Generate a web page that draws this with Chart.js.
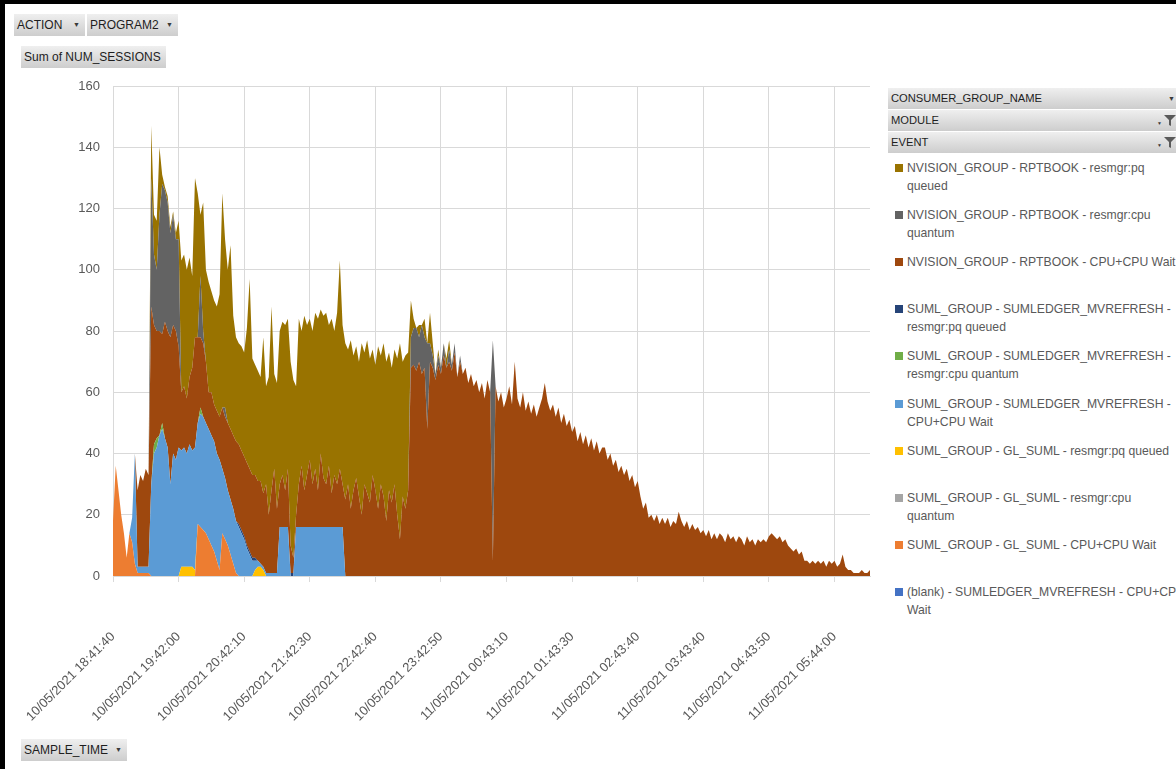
<!DOCTYPE html>
<html>
<head>
<meta charset="utf-8">
<title>Sum of NUM_SESSIONS by SAMPLE_TIME</title>
<script src="https://cdn.jsdelivr.net/npm/chart.js@4.4.1/dist/chart.umd.min.js"></script>
<style>
  html, body { margin: 0; padding: 0; }
  body { width: 1176px; height: 769px; background: #000; position: relative; overflow: hidden;
         font-family: "Liberation Sans", Arial, sans-serif; }
  #sheet { position: absolute; left: 5px; top: 4px; width: 1171px; height: 765px; background: #fff; }
  #chartCanvas { position: absolute; left: 0; top: 0; }
  .field { position: absolute; height: 22px; line-height: 22px; box-sizing: border-box; padding-left: 3px;
           font-size: 12px; color: #1e1e1e; background: linear-gradient(#efefef, #cdcdcd); white-space: nowrap; overflow: hidden; }
  .field.side { font-size: 11.2px; height: 21px; line-height: 21px; width: 288px; left: 888px; }
  .field .arrow { position: absolute; top: 0; font-size: 7px; color: #3a3a3a; }
  .field svg { position: absolute; top: 5px; }
  .legend-item { position: absolute; left: 907px; font-size: 12.2px; line-height: 18px; color: #595959; white-space: nowrap; }
  .legend-swatch { position: absolute; left: 895px; width: 8px; height: 8px; }
</style>
</head>
<body>
<div id="sheet"></div>
<canvas id="chartCanvas" width="880" height="769"></canvas>

<div class="field" style="left:14px;top:14px;width:71px;">ACTION<span class="arrow" style="left:59px;">&#9660;</span></div>
<div class="field" style="left:87px;top:14px;width:91px;">PROGRAM2<span class="arrow" style="left:79px;">&#9660;</span></div>
<div class="field" style="left:21px;top:46px;width:145px;">Sum of NUM_SESSIONS</div>
<div class="field" style="left:21px;top:739px;width:106px;">SAMPLE_TIME<span class="arrow" style="left:94px;">&#9660;</span></div>

<div class="field side" style="top:88px;">CONSUMER_GROUP_NAME<span class="arrow" style="left:280px;">&#9660;</span></div>
<div class="field side" style="top:110px;">MODULE<span class="arrow" style="left:269px;font-size:5px;top:3px;">&#9660;</span>
  <svg style="left:276px;" width="12" height="11" viewBox="0 0 12 11"><path d="M0 0 H12 L7 5 V11 L5 10 V5 Z" fill="#5a5a5a"/></svg></div>
<div class="field side" style="top:132px;">EVENT<span class="arrow" style="left:269px;font-size:5px;top:3px;">&#9660;</span>
  <svg style="left:276px;" width="12" height="11" viewBox="0 0 12 11"><path d="M0 0 H12 L7 5 V11 L5 10 V5 Z" fill="#5a5a5a"/></svg></div>

<div id="legend"></div>

<script>
// Axis labels shown under every 24th sample
const tickLabels = [
  '10/05/2021 18:41:40', '10/05/2021 19:42:00', '10/05/2021 20:42:10', '10/05/2021 21:42:30',
  '10/05/2021 22:42:40', '10/05/2021 23:42:50', '11/05/2021 00:43:10', '11/05/2021 01:43:30',
  '11/05/2021 02:43:40', '11/05/2021 03:43:40', '11/05/2021 04:43:50', '11/05/2021 05:44:00'
];
const samplesPerLabel = 24;
const sampleCount = 278;

// Session counts per series, as [first sample index, values] runs; samples outside a run are 0.
const blankMvrefreshCpuWait = [];

const glSumlCpuWait = [
  [0, [18, 36, 28, 20, 14, 6, 14, 11, 4, 1, 1, 1, 1, 1]],
  [31, [17, 16, 15, 14, 12, 10, 8, 5, 2, 14, 12, 10, 7, 4, 1]]
];

const glSumlCpuQuantum = [];

const glSumlPqQueued = [
  [25, [3, 3, 3, 3, 3, 2]],
  [52, [2, 3, 3, 2]]
];

const sumLedgerCpuWait = [
  [7, [8, 36, 2, 2, 2, 2, 2,
       30, 40, 42, 46, 48, 45, 42, 30, 40, 38, 42,
       38, 39, 37, 40, 38, 40, 33, 37, 37, 36,
       36, 36, 36, 35, 36, 21, 20, 18, 18, 18,
       17, 16, 14, 12, 9, 7, 5, 3, 2, 1,
       1, 1, 1, 1, 1, 1, 16, 16, 16, 16,
       0, 0, 16, 16, 16, 16, 16, 16, 16, 16,
       16, 16, 16, 16, 16, 16, 16, 16, 16, 16]]
];

const sumLedgerCpuQuantum = [
  [15, [3, 3, 0, 2]],
  [32, [2]]
];

const sumLedgerPqQueued = [
  [46, [1, 1, 1, 1, 1, 1, 1]],
  [65, [1, 1]]
];

const rptbookCpuWait = [
  [9, [25, 30, 28, 32, 30,
       58, 39, 35, 34, 29, 38, 38, 48, 42, 42, 33,
       19, 20, 18, 22, 27, 36, 28, 23, 24, 20,
       12, 14, 12, 14, 14, 20, 20, 22, 23, 24,
       26, 26, 26, 26, 27, 27, 27, 27, 26, 27,
       24, 29, 19, 27, 34, 21, 14, 17, 12, 19,
       9, 5, 4, 14, 20, 12, 17, 22, 14, 19,
       12, 24, 16, 14, 20, 11, 17, 14, 19, 14,
       25, 30, 22, 28, 32, 26, 20, 30, 27, 24, 33, 28,
       22, 30, 26, 18, 28, 24, 30, 20, 12, 26, 22, 28,
       68, 69, 67, 70, 66, 68, 48, 70, 68, 64,
       69, 66, 72, 68, 70, 67, 73, 65, 70, 66,
       68, 63, 66, 62, 64, 60, 63, 58, 64, 60,
       5, 62, 57, 60, 55, 58, 62, 56, 70, 58,
       55, 60, 54, 57, 53, 56, 52, 55, 58, 63, 57, 54,
       56, 52, 55, 50, 53, 49, 51, 47, 49, 44, 47, 43,
       46, 42, 45, 41, 44, 40, 42, 42, 38, 40, 36, 38,
       34, 36, 33, 35, 31, 33, 29, 31, 26, 22, 24, 19,
       20, 18, 20, 17, 19, 17, 19, 16, 18, 17, 21, 18, 16, 18, 15, 17, 15, 16, 14, 15,
       13, 15, 12, 14, 12, 14, 13, 11, 14, 12, 13, 11, 13, 12, 10, 13, 11, 12, 10, 12, 11, 12, 11, 13,
       14, 13, 12, 13, 11, 12, 10, 9, 8, 9, 7, 8, 5,
       5, 4, 5, 4, 5, 4, 5, 3, 5, 4, 5, 3, 4, 7, 3, 2, 2, 1, 1, 1, 2, 1, 1, 2]]
];

const rptbookCpuQuantum = [
  [14, [42, 23, 20, 38, 49, 43, 42, 34, 36, 30, 35]],
  [32, [20, 4]],
  [41, [3]],
  [109, [10, 12, 14, 8, 16, 10, 28, 6, 4, 2, 3, 2, 4, 0, 4, 2, 3, 0, 2]],
  [139, [72]]
];

const rptbookPqQueued = [
  [14, [17, 13, 16, 22, 3, 1, 2, 2, 1, 2, 6,
        43, 43, 42, 39, 30, 52, 47, 20, 42, 30,
        36, 33, 34, 34, 40, 70, 55, 50, 60, 39,
        34, 33, 34, 34, 44, 62, 38, 36, 36, 34,
        51, 32, 45, 60, 31, 41, 50, 50, 54, 49,
        60, 58, 42, 54, 44, 57, 49, 46, 50, 51,
        56, 47, 53, 56, 46, 57, 47, 56, 68, 52,
        51, 44, 55, 44, 43, 44, 56, 43, 50, 47, 41, 41,
        53, 42, 50, 52, 45, 44, 44, 51, 64, 44, 50, 45,
        12, 3, 0, 4, 0, 6, 0, 10, 4, 0, 2, 0, 0, 3, 3, 0, 0]]
];

// Legend text, split where each entry wraps
const legendText = {
  blank:   ['(blank) - SUMLEDGER_MVREFRESH - CPU+CPU', 'Wait'],
  glCpu:   ['SUML_GROUP - GL_SUML - CPU+CPU Wait'],
  glQuant: ['SUML_GROUP - GL_SUML - resmgr:cpu', 'quantum'],
  glPq:    ['SUML_GROUP - GL_SUML - resmgr:pq queued'],
  smCpu:   ['SUML_GROUP - SUMLEDGER_MVREFRESH -', 'CPU+CPU Wait'],
  smQuant: ['SUML_GROUP - SUMLEDGER_MVREFRESH -', 'resmgr:cpu quantum'],
  smPq:    ['SUML_GROUP - SUMLEDGER_MVREFRESH -', 'resmgr:pq queued'],
  nvCpu:   ['NVISION_GROUP - RPTBOOK - CPU+CPU Wait'],
  nvQuant: ['NVISION_GROUP - RPTBOOK - resmgr:cpu', 'quantum'],
  nvPq:    ['NVISION_GROUP - RPTBOOK - resmgr:pq', 'queued']
};

function expand(runs) {
  const out = new Array(sampleCount).fill(0);
  runs.forEach(([start, values]) => values.forEach((v, k) => { out[start + k] = v; }));
  return out.map((v, i) => ({ x: i, y: v }));
}

// Stack order, bottom to top
const seriesDefs = [
  { key: 'blank',   runs: blankMvrefreshCpuWait, color: '#4472C4' },
  { key: 'glCpu',   runs: glSumlCpuWait,         color: '#ED7D31' },
  { key: 'glQuant', runs: glSumlCpuQuantum,      color: '#A5A5A5' },
  { key: 'glPq',    runs: glSumlPqQueued,        color: '#FFC000' },
  { key: 'smCpu',   runs: sumLedgerCpuWait,      color: '#5B9BD5' },
  { key: 'smQuant', runs: sumLedgerCpuQuantum,   color: '#70AD47' },
  { key: 'smPq',    runs: sumLedgerPqQueued,     color: '#264478' },
  { key: 'nvCpu',   runs: rptbookCpuWait,        color: '#9E480E' },
  { key: 'nvQuant', runs: rptbookCpuQuantum,     color: '#636363' },
  { key: 'nvPq',    runs: rptbookPqQueued,       color: '#997300' }
];

const datasets = seriesDefs.map((s, i) => ({
  label: legendText[s.key].join(' '),
  data: expand(s.runs),
  backgroundColor: s.color,
  borderColor: 'rgba(0,0,0,0)',
  borderWidth: 0,
  pointRadius: 0,
  pointHoverRadius: 0,
  tension: 0,
  fill: i === 0 ? 'origin' : '-1'
}));

const axisFont = { family: '"Liberation Sans", Arial, sans-serif', size: 13 };

new Chart(document.getElementById('chartCanvas'), {
  type: 'line',
  data: { datasets },
  options: {
    responsive: false,
    devicePixelRatio: 1,
    animation: false,
    events: [],
    layout: { padding: { top: 86, right: 10, bottom: 0, left: 0 } },
    plugins: { legend: { display: false }, tooltip: { enabled: false } },
    scales: {
      x: {
        type: 'linear',
        min: 0,
        max: sampleCount - 1,
        afterFit: (scale) => {
          scale.height = 193;
          scale.paddingLeft = 0;
          scale.paddingRight = 0;
        },
        afterBuildTicks: (scale) => {
          scale.ticks = tickLabels.map((_, k) => ({ value: k * samplesPerLabel }));
        },
        grid: { color: '#d9d9d9', lineWidth: 1, drawTicks: true, tickLength: 6, tickColor: '#d9d9d9' },
        border: { display: true, color: '#d9d9d9' },
        ticks: {
          autoSkip: false,
          minRotation: 45,
          maxRotation: 45,
          padding: 47,
          color: '#595959',
          font: axisFont,
          callback: (value) => tickLabels[Math.round(value / samplesPerLabel)] ?? ''
        }
      },
      y: {
        stacked: true,
        min: 0,
        max: 160,
        afterFit: (scale) => {
          scale.width = 113;
          scale.paddingTop = 0;
          scale.paddingBottom = 0;
        },
        grid: { color: '#d9d9d9', lineWidth: 1, drawTicks: false },
        border: { display: true, color: '#d9d9d9' },
        ticks: { stepSize: 20, padding: 13, color: '#595959', font: axisFont }
      }
    }
  }
});

// Legend on the right, listed from the top of the stack down
const legendEl = document.getElementById('legend');
seriesDefs.slice().reverse().forEach((s, k) => {
  const top = 159 + k * 47.1;
  const sw = document.createElement('div');
  sw.className = 'legend-swatch';
  sw.style.top = (top + 5) + 'px';
  sw.style.background = s.color;
  legendEl.appendChild(sw);
  const item = document.createElement('div');
  item.className = 'legend-item';
  item.style.top = top + 'px';
  item.innerHTML = legendText[s.key].map(line => line.replace(/&/g, '&amp;').replace(/</g, '&lt;')).join('<br>');
  legendEl.appendChild(item);
});
</script>
</body>
</html>
